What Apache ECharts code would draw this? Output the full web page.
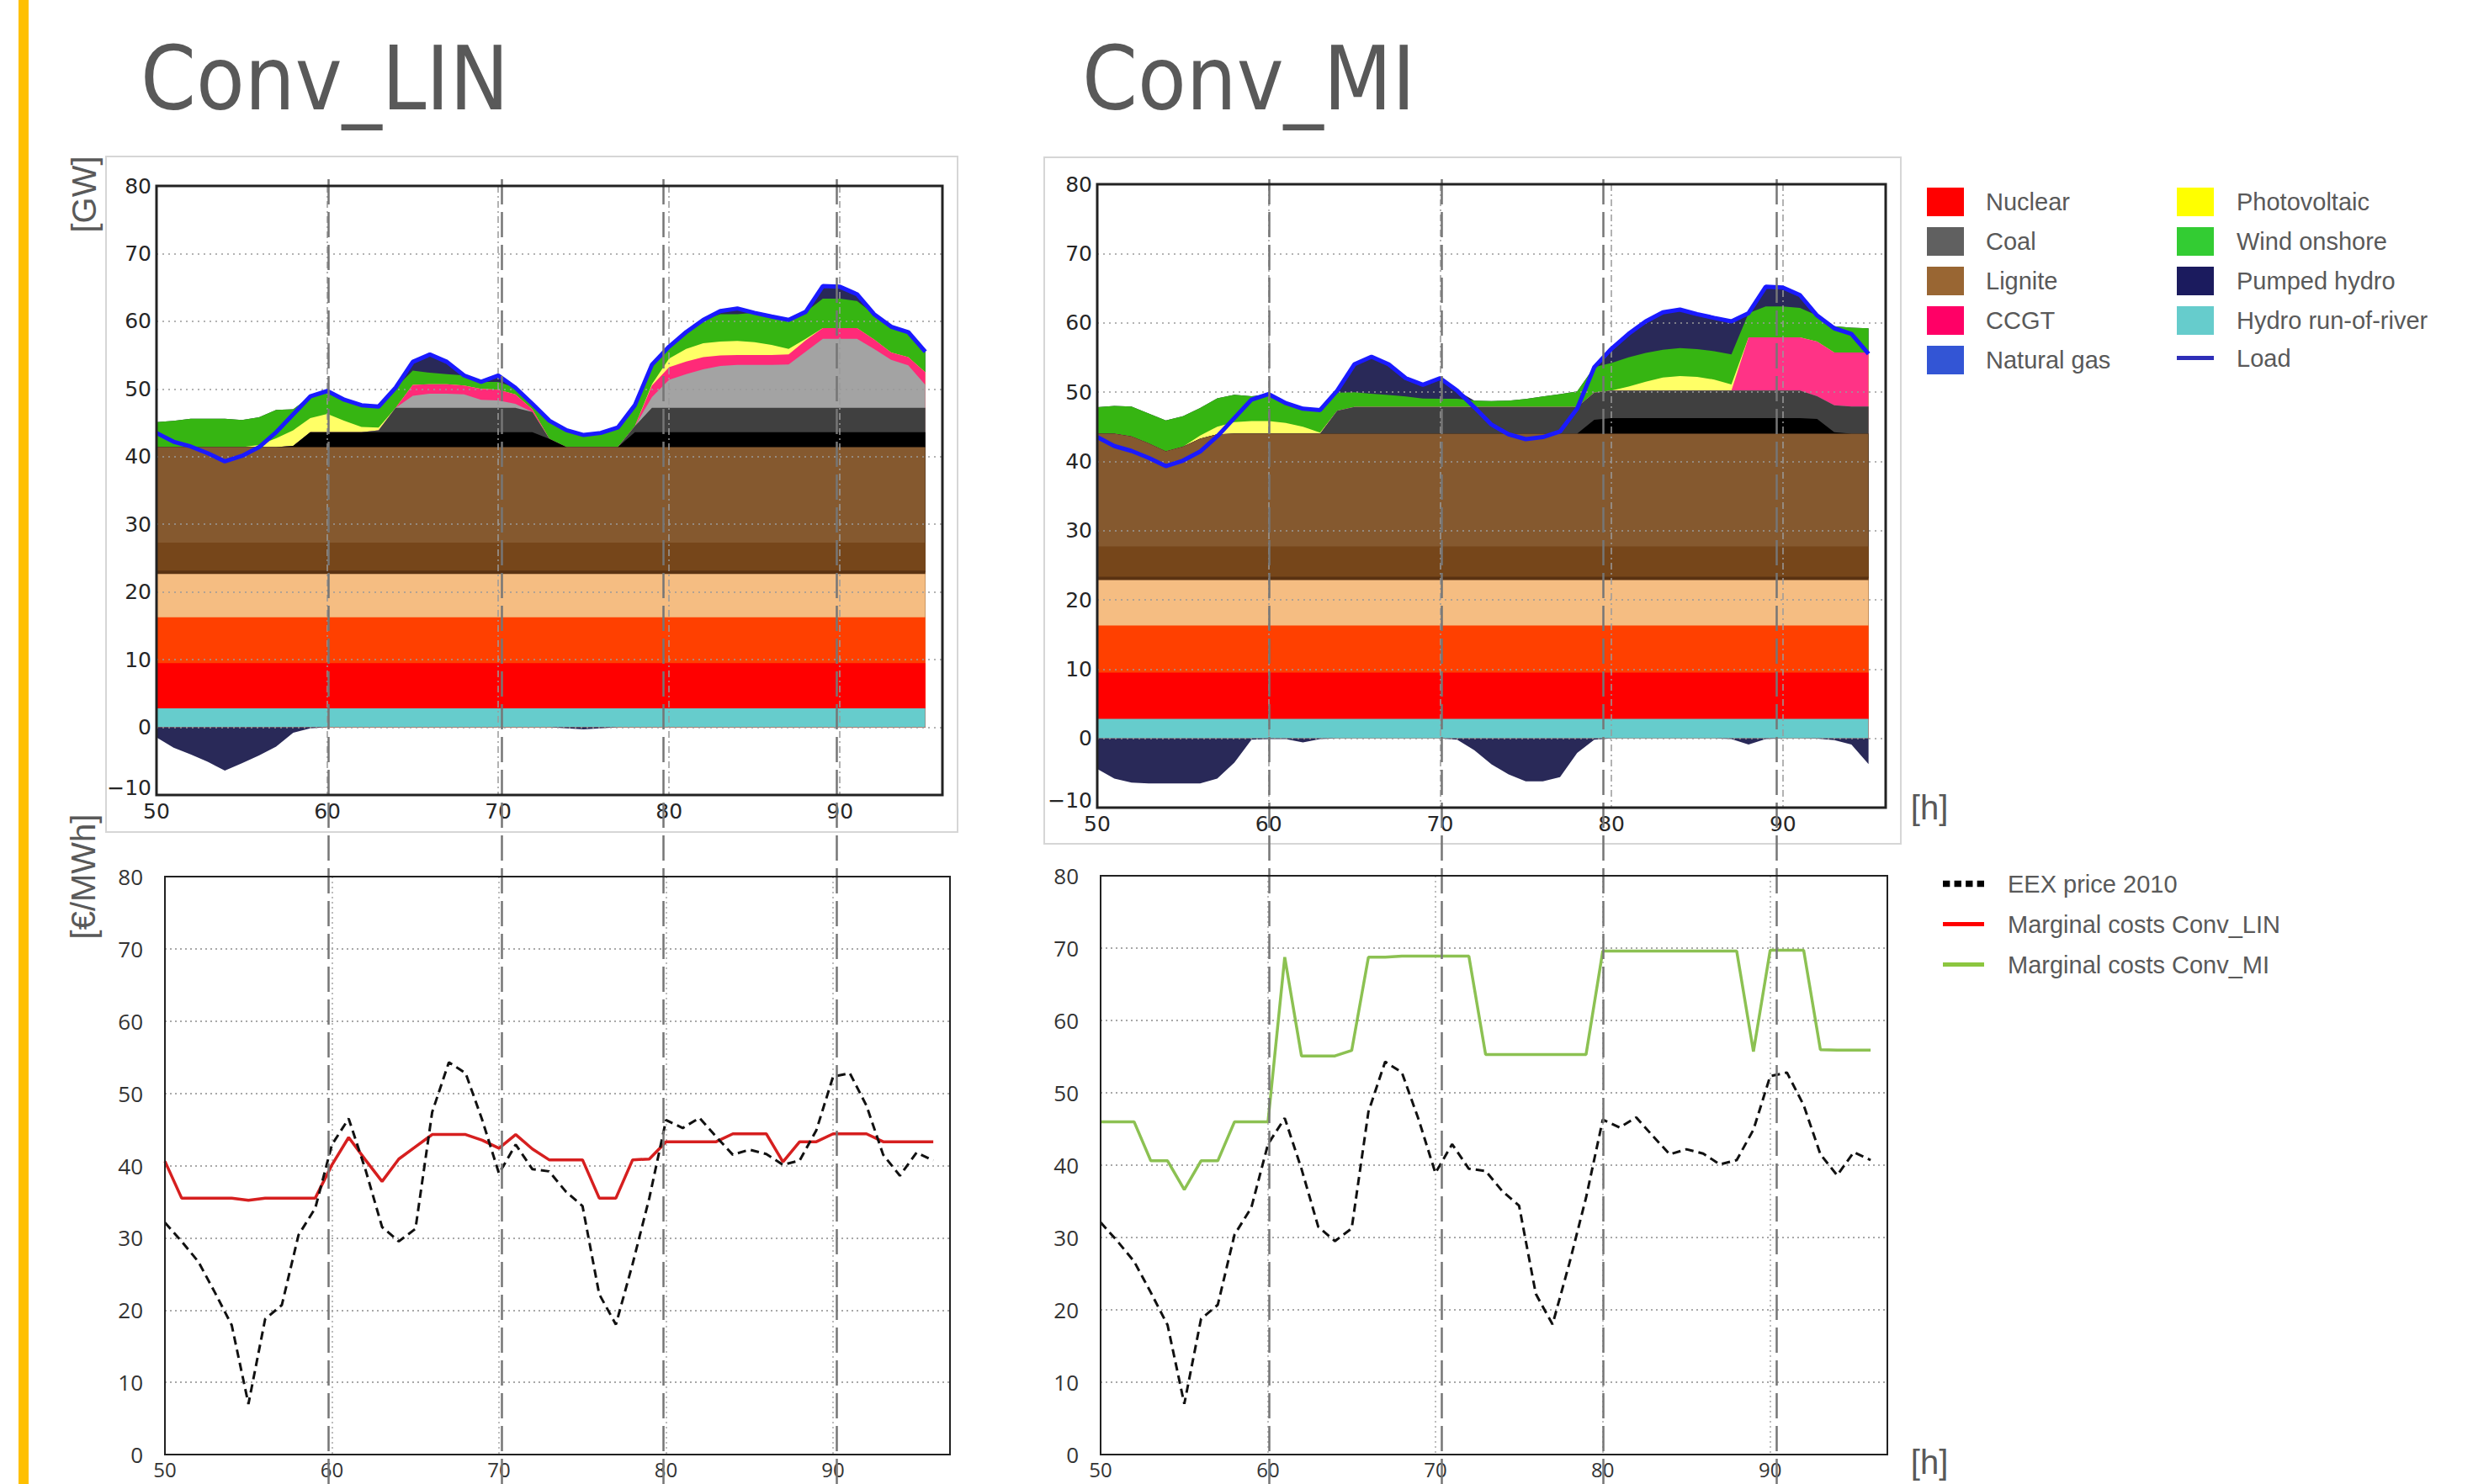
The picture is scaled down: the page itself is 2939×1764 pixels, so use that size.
<!DOCTYPE html>
<html>
<head>
<meta charset="utf-8">
<script src="https://cdn.jsdelivr.net/npm/echarts@6/dist/echarts.min.js"></script>
<style>
html,body{margin:0;padding:0;background:#ffffff;}
#c{width:2939px;height:1764px;}
</style>
</head>
<body>
<div id="c"></div>
<script>
// ---------------- DATA ----------------
const topHours = [50,51,52,53,54,55,56,57,58,59,60,61,62,63,64,65,66,67,68,69,70,71,72,73,74,75,76,77,78,79,80,81,82,83,84,85,86,87,88,89,90,91,92,93,94,95];
const priceHours = [50,51,52,53,54,55,56,57,58,59,60,61,62,63,64,65,66,67,68,69,70,71,72,73,74,75,76,77,78,79,80,81,82,83,84,85,86,87,88,89,90,91,92,93,94,95,96];

const loadGW = [43.5,42.2,41.5,40.5,39.3,40.1,41.4,43.6,46.25,48.9,49.7,48.4,47.6,47.4,50.2,54.0,55.1,54.0,52.0,51.05,52.0,50.2,47.8,45.3,43.9,43.2,43.5,44.3,47.6,53.6,56.25,58.4,60.2,61.5,61.9,61.25,60.7,60.2,61.4,65.2,65.1,64.0,61.05,59.2,58.4,55.5];

// Conv_LIN: upper edges of each generation layer [GW]
const linRunOfRiverTop = 2.8;
const linNuclearTop = 9.5;
const linNuclear2Top = 16.25;
const linPeachTop = 22.9;
const linDarkLigniteTop = 27.3;
const linLigniteTop = 41.4;
const linBlackTop = [41.4,41.4,41.4,41.4,41.4,41.4,41.4,41.4,41.6,43.6,43.6,43.6,43.6,43.6,43.6,43.6,43.6,43.6,43.6,43.6,43.6,43.6,43.6,42.6,41.4,41.4,41.4,41.4,43.6,43.6,43.6,43.6,43.6,43.6,43.6,43.6,43.6,43.6,43.6,43.6,43.6,43.6,43.6,43.6,43.6,43.6];
const linCoalTop = [41.4,41.4,41.4,41.4,41.4,41.4,41.4,41.4,41.6,43.6,43.6,43.6,43.6,43.9,47.2,47.2,47.2,47.2,47.2,47.2,47.2,47.2,46.6,42.6,41.4,41.4,41.4,41.4,44.5,47.2,47.2,47.2,47.2,47.2,47.2,47.2,47.2,47.2,47.2,47.2,47.2,47.2,47.2,47.2,47.2,47.2];
const linGrayTop = [41.4,41.4,41.4,41.4,41.4,41.4,41.4,41.4,41.6,43.6,43.6,43.6,43.6,43.9,47.2,49.0,49.3,49.3,49.2,48.4,48.3,47.8,46.6,42.6,41.4,41.4,41.4,41.4,44.5,48.8,51.35,52.2,52.9,53.4,53.55,53.55,53.55,53.6,55.5,57.4,57.4,57.4,55.9,54.3,53.5,50.6];
const linCcgtTop = [41.4,41.4,41.4,41.4,41.4,41.4,41.4,41.4,41.6,43.6,43.6,43.6,43.6,43.9,47.2,50.6,50.7,50.7,50.5,50.0,49.9,49.2,47.0,42.6,41.4,41.4,41.4,41.4,44.5,50.5,53.2,54.05,54.7,54.96,55.0,55.0,55.0,55.1,57.2,59.0,59.0,59.0,57.3,55.4,54.7,52.45];
const linPvTop = [41.4,41.4,41.4,41.4,41.4,41.4,41.7,42.7,43.9,45.7,46.3,45.3,44.4,44.3,47.2,50.6,50.7,50.7,50.5,50.0,49.9,49.2,47.0,42.6,41.4,41.4,41.4,41.4,44.5,50.7,54.5,55.9,56.75,57.0,57.1,56.9,56.5,55.9,57.4,59.0,59.0,59.0,57.3,55.4,54.7,52.45];
const linWindTop = [45.1,45.3,45.6,45.6,45.6,45.4,45.8,46.9,47.0,48.9,49.7,48.4,47.6,47.4,50.2,52.7,52.4,52.2,52.0,51.05,51.05,50.2,47.8,45.3,43.9,43.2,43.5,44.3,47.6,53.6,56.25,58.4,60.2,61.05,61.05,61.25,60.7,60.2,61.4,63.35,63.35,63.0,61.05,59.2,58.4,55.5];
const linPumpGenTop = [45.1,45.3,45.6,45.6,45.6,45.4,45.8,46.9,47.0,48.9,49.7,48.4,47.6,47.4,50.2,54.0,55.1,54.0,52.0,51.05,52.0,50.2,47.8,45.3,43.9,43.2,43.5,44.3,47.6,53.6,56.25,58.4,60.2,61.5,61.9,61.25,60.7,60.2,61.4,65.2,65.1,64.0,61.05,59.2,58.4,55.5];
const linPumping = [-1.5,-3.0,-4.0,-5.1,-6.4,-5.3,-4.15,-2.85,-0.8,-0.15,0,0,0,0,0,0,0,0,0,0,0,0,0,0,-0.15,-0.3,-0.15,0,0,0,0,0,0,0,0,0,0,0,0,0,0,0,0,0,0,0];

// Conv_MI: upper edges of each generation layer [GW]
const miRunOfRiverTop = 2.8;
const miNuclearTop = 9.5;
const miNuclear2Top = 16.3;
const miPeachTop = 23.1;
const miDarkLigniteTop = 27.7;
const miLigniteTop = [44.0,44.0,43.6,42.6,41.45,42.1,43.25,43.9,44.0,44.0,44.0,44.0,44.0,44.0,44.0,44.0,44.0,44.0,44.0,44.0,44.0,44.0,44.0,44.0,44.0,44.0,44.0,44.0,44.0,44.0,44.0,44.0,44.0,44.0,44.0,44.0,44.0,44.0,44.0,44.0,44.0,44.0,44.0,44.0,44.0,44.0];
const miBlackTop = [44.0,44.0,43.6,42.6,41.45,42.1,43.25,43.9,44.0,44.0,44.0,44.0,44.0,44.0,44.0,44.0,44.0,44.0,44.0,44.0,44.0,44.0,44.0,44.0,44.0,44.0,44.0,44.0,44.0,46.0,46.25,46.25,46.25,46.25,46.25,46.25,46.25,46.25,46.25,46.25,46.25,46.25,46.1,44.2,44.0,44.0];
const miCoalTop = [44.0,44.0,43.6,42.6,41.45,42.1,43.25,43.9,44.0,44.0,44.0,44.0,44.0,44.0,47.3,47.85,47.85,47.85,47.85,47.85,47.85,47.85,47.85,47.85,47.85,47.85,47.85,47.85,47.85,49.9,50.2,50.2,50.2,50.2,50.2,50.2,50.2,50.2,50.2,50.2,50.2,50.2,49.4,48.1,47.9,47.9];
const miCcgtTop = [44.0,44.0,43.6,42.6,41.45,42.1,43.25,43.9,44.0,44.0,44.0,44.0,44.0,44.0,47.3,47.85,47.85,47.85,47.85,47.85,47.85,47.85,47.85,47.85,47.85,47.85,47.85,47.85,47.85,49.9,50.2,50.2,50.2,50.2,50.2,50.2,50.2,50.2,57.9,57.9,57.9,57.9,57.3,55.7,55.7,55.7];
const miPvTop = [44.0,44.0,43.6,42.6,41.45,42.1,43.7,45.0,45.65,45.8,45.8,45.55,45.0,44.15,47.3,47.85,47.85,47.85,47.85,47.85,47.85,47.85,47.85,47.85,47.85,47.85,47.85,47.85,47.85,49.9,50.2,50.8,51.5,52.1,52.3,52.2,51.8,51.1,57.9,57.9,57.9,57.9,57.3,55.7,55.7,55.7];
const miWindTop = [47.8,48.0,47.9,46.9,45.9,46.5,47.7,49.1,49.6,49.4,49.5,48.4,47.6,47.4,49.9,49.96,49.76,49.56,49.35,49.07,49.03,49.03,48.75,48.7,48.75,49.0,49.35,49.7,50.1,53.6,54.2,55.0,55.65,56.1,56.35,56.2,55.9,55.45,61.4,62.36,62.36,62.16,61.05,59.5,59.3,59.2];
const miPumpGenTop = [47.8,48.0,47.9,46.9,45.9,46.5,47.7,49.1,49.6,49.4,49.7,48.5,47.6,47.4,50.2,54.0,55.1,54.0,52.0,51.05,52.0,50.2,48.75,48.7,48.75,49.0,49.35,49.7,50.1,53.6,56.25,58.4,60.2,61.5,61.9,61.25,60.7,60.2,61.4,65.2,65.1,64.0,61.05,59.5,59.3,59.2];
const miPumping = [-4.4,-5.8,-6.4,-6.5,-6.5,-6.5,-6.5,-5.8,-3.5,-0.2,-0.1,-0.1,-0.6,-0.1,0,0,0,0,0,0,0,-0.2,-1.7,-3.75,-5.2,-6.2,-6.2,-5.6,-2.1,-0.2,0,0,0,0,0,0,0,-0.1,-0.9,-0.1,0,0,-0.05,-0.25,-0.9,-3.7];

// Prices [EUR/MWh]
const eexPrice2010 = [32.1,29.5,26.7,22.4,17.9,7.0,18.75,20.7,30.4,34.1,42.9,46.5,39.5,31.5,29.5,31.25,47.4,54.3,52.8,46.3,38.9,42.9,39.5,39.2,36.4,34.4,22.2,18.0,26.4,35.5,46.3,45.2,46.6,44.0,41.5,42.2,41.6,40.1,40.7,44.9,52.3,52.8,48.3,41.5,38.6,41.8,40.7];
const mcConvLin = [40.6,35.5,35.5,35.5,35.5,35.2,35.5,35.5,35.5,35.5,40.1,43.9,40.8,37.8,40.9,42.6,44.3,44.3,44.3,43.5,42.4,44.3,42.3,40.8,40.8,40.8,35.5,35.5,40.8,40.9,43.3,43.3,43.3,43.3,44.4,44.4,44.4,40.5,43.3,43.3,44.4,44.4,44.4,43.3,43.3,43.3,43.3];
const mcConvMi = [46.0,46.0,46.0,40.6,40.6,36.6,40.6,40.6,46.0,46.0,46.0,68.75,55.1,55.1,55.1,55.85,68.75,68.75,68.9,68.9,68.9,68.9,68.9,55.3,55.3,55.3,55.3,55.3,55.3,55.3,69.6,69.6,69.6,69.6,69.6,69.6,69.6,69.6,69.6,55.7,69.7,69.7,69.7,55.95,55.9,55.9,55.9];

// hand-drawn guide lines (hour positions)
const linGuideHours = [60.05,70.2,79.65,89.8];
const miGuideHours = [60.03,70.1,79.5,89.65];

const legendTop1 = ['Nuclear','Coal','Lignite','CCGT','Natural gas'];
const legendTop2 = ['Photovoltaic','Wind onshore','Pumped hydro','Hydro run-of-river','Load'];
const legendBottom = ['EEX price 2010','Marginal costs Conv_LIN','Marginal costs Conv_MI'];

// ---------------- STYLE ----------------
const C = {
  ror:'#66CCCC', nuc:'#FF0000', nuc2:'#FF4000', peach:'#F5BD82', dkLig:'#76461a', lig:'#85592f',
  black:'#000000', coal:'#404040', gray:'#A3A3A3', ccgtL:'#FF2A78', ccgtM:'#FF3386',
  pv:'#FFFF66', wind:'#36B512', navy:'#292958', load:'#1a1aff'
};
const legendColors = {
  'Nuclear':'#FF0000','Coal':'#606060','Lignite':'#996633','CCGT':'#FF0066','Natural gas':'#3355D5',
  'Photovoltaic':'#FFFF00','Wind onshore':'#33CC33','Pumped hydro':'#1B1B5E','Hydro run-of-river':'#66CCCC','Load':'#2E2EB8',
  'EEX price 2010':'#000000','Marginal costs Conv_LIN':'#FF0000','Marginal costs Conv_MI':'#8CC63F'
};

function pts(hours, vals){ return hours.map((h,i)=>[h, vals[i]]); }
function flat(hours, v){ return [[hours[0], v],[hours[hours.length-1], v]]; }
function area(name, color, data, gi, extra){
  return Object.assign({
    type:'line', name, xAxisIndex:gi, yAxisIndex:gi, data,
    symbol:'none', showSymbol:false, lineStyle:{width:0},
    areaStyle:{color, opacity:1}, itemStyle:{color},
    silent:true, z:2, emphasis:{disabled:true}
  }, extra||{});
}

function topSeries(gi, d){
  return [
    area('Pumped hydro', C.navy, pts(topHours, d.pumpGen), gi),
    area('Wind onshore', C.wind, pts(topHours, d.wind), gi),
    area('Photovoltaic', C.pv, pts(topHours, d.pv), gi),
    area('CCGT', d.ccgtColor, pts(topHours, d.ccgt), gi),
    area('Gas (other)', C.gray, pts(topHours, d.gray), gi),
    area('Coal', C.coal, pts(topHours, d.coal), gi),
    area('Hard coal (base)', C.black, pts(topHours, d.black), gi),
    area('Lignite', C.lig, Array.isArray(d.lig) ? pts(topHours, d.lig) : flat(topHours, d.lig), gi),
    area('Lignite (base)', C.dkLig, flat(topHours, d.dkLig), gi),
    area('Nuclear (3)', C.peach, flat(topHours, d.peach), gi, {lineStyle:{width:4, color:'#5a3212'}}),
    area('Nuclear (2)', C.nuc2, flat(topHours, d.nuc2), gi),
    area('Nuclear', C.nuc, flat(topHours, d.nuc), gi),
    area('Hydro run-of-river', C.ror, flat(topHours, d.ror), gi),
    area('Pumped hydro', C.navy, pts(topHours, d.pumping), gi),
    {type:'line', name:'Load', xAxisIndex:gi, yAxisIndex:gi, data: pts(topHours, loadGW),
     symbol:'none', lineStyle:{color:C.load, width:5}, itemStyle:{color:C.load}, z:4, silent:true}
  ];
}

const topLabel = {color:'#262626', fontSize:25, fontFamily:'DejaVu Sans, sans-serif'};
const botLabel = {color:'#333333', fontSize:26, fontFamily:'Open Sans, sans-serif'};
function topX(gi){ return {type:'value', gridIndex:gi, min:50, max:96, interval:10, z:3,
  axisLine:{show:false}, axisTick:{show:false},
  axisLabel:Object.assign({margin:7, showMaxLabel:false}, topLabel),
  splitLine:{show:true, lineStyle:{color:'#9a9a9a', width:1.5, type:[8,4,2,4]}}}; }
function topY(gi){ return {type:'value', gridIndex:gi, min:-10, max:80, interval:10, z:3,
  axisLine:{show:false}, axisTick:{show:false},
  axisLabel:Object.assign({margin:6,
    formatter:v => v < 0 ? '{lo|\u2212' + (-v) + '}' : String(v),
    rich:{lo:Object.assign({padding:[0,0,18,0]}, topLabel)}}, topLabel),
  splitLine:{show:true, lineStyle:{color:'#9a9a9a', width:1.5, type:[2,5]}}}; }
function botX(gi){ return {type:'value', gridIndex:gi, min:50, max:97, interval:10,
  axisLine:{show:false}, axisTick:{show:false},
  axisLabel:Object.assign({margin:5, showMaxLabel:false}, botLabel, {fontSize:24}),
  splitLine:{show:true, lineStyle:{color:'#a8a8a8', width:1.5, type:[2,4]}}}; }
function botY(gi){ return {type:'value', gridIndex:gi, min:0, max:80, interval:10,
  axisLine:{show:false}, axisTick:{show:false},
  axisLabel:Object.assign({margin:26}, botLabel),
  splitLine:{show:true, lineStyle:{color:'#a8a8a8', width:2, type:[2,4]}}}; }
function hidX(gi){ return {type:'value', gridIndex:gi, min:50, max:96, show:false}; }
function hidY(gi){ return {type:'value', gridIndex:gi, min:0, max:1, show:false}; }

function guide(gi, hours){
  return {type:'line', xAxisIndex:gi, yAxisIndex:gi, data:[[50,0]], symbol:'none', lineStyle:{width:0},
    silent:true, z:20, markLine:{silent:true, symbol:['none','none'], label:{show:false},
    lineStyle:{color:'#767676', width:2.5, type:[30,9]}, data: hours.map(h => ({xAxis:h}))}};
}

const gridCommon = {show:true, backgroundColor:'transparent', z:10, containLabel:false, outerBoundsMode:'none'};
const legendText = {color:'#595959', fontSize:29, fontFamily:'Liberation Sans, Arial, sans-serif'};
function legItem(name, icon){ return {name, icon: icon || 'rect', itemStyle:{color:legendColors[name], borderWidth:0}}; }

const series = [].concat(
  topSeries(0, {pumpGen:linPumpGenTop, wind:linWindTop, pv:linPvTop, ccgt:linCcgtTop, ccgtColor:C.ccgtL,
    gray:linGrayTop, coal:linCoalTop, black:linBlackTop, lig:linLigniteTop, dkLig:linDarkLigniteTop,
    peach:linPeachTop, nuc2:linNuclear2Top, nuc:linNuclearTop, ror:linRunOfRiverTop, pumping:linPumping}),
  topSeries(1, {pumpGen:miPumpGenTop, wind:miWindTop, pv:miPvTop, ccgt:miCcgtTop, ccgtColor:C.ccgtM,
    gray:miCoalTop, coal:miCoalTop, black:miBlackTop, lig:miLigniteTop, dkLig:miDarkLigniteTop,
    peach:miPeachTop, nuc2:miNuclear2Top, nuc:miNuclearTop, ror:miRunOfRiverTop, pumping:miPumping}),
  [
    {type:'line', name:'Marginal costs Conv_LIN', xAxisIndex:2, yAxisIndex:2, data:pts(priceHours, mcConvLin),
     symbol:'none', lineStyle:{color:'#d61f1f', width:3.5}, itemStyle:{color:'#d61f1f'}, z:3, silent:true},
    {type:'line', name:'EEX price 2010', xAxisIndex:2, yAxisIndex:2, data:pts(priceHours, eexPrice2010),
     symbol:'none', lineStyle:{color:'#111111', width:3, type:[10,6]}, itemStyle:{color:'#000'}, z:4, silent:true},
    {type:'line', name:'Marginal costs Conv_MI', xAxisIndex:3, yAxisIndex:3, data:pts(priceHours, mcConvMi),
     symbol:'none', lineStyle:{color:'#8cc152', width:3.5}, itemStyle:{color:'#8cc152'}, z:3, silent:true},
    {type:'line', name:'EEX price 2010', xAxisIndex:3, yAxisIndex:3, data:pts(priceHours, eexPrice2010),
     symbol:'none', lineStyle:{color:'#111111', width:3, type:[10,6]}, itemStyle:{color:'#000'}, z:4, silent:true},
    {type:'line', name:'Natural gas', xAxisIndex:0, yAxisIndex:0, data:[], itemStyle:{color:legendColors['Natural gas']}},
    guide(4, linGuideHours),
    guide(5, miGuideHours)
  ]
);

const titleFont = {fontSize:105, fontWeight:'normal', color:'#595959', fontFamily:'DejaVu Sans Condensed, Liberation Sans Narrow, sans-serif'};
const unitFont = {fill:'#595959', fontSize:40, fontFamily:'Liberation Sans, Arial, sans-serif', align:'center', verticalAlign:'middle', textAlign:'center', textVerticalAlign:'middle'};

const option = {
  animation:false,
  backgroundColor:'#ffffff',
  title:[
    {text:'Conv_LIN', left:167, top:41, padding:0, textStyle:titleFont},
    {text:'Conv_MI', left:1286, top:41, padding:0, textStyle:titleFont}
  ],
  grid:[
    Object.assign({left:186, top:221, width:934, height:724, borderColor:'#222', borderWidth:3}, gridCommon),
    Object.assign({left:1304, top:219, width:937, height:741, borderColor:'#222', borderWidth:3}, gridCommon),
    Object.assign({left:196, top:1042, width:933, height:687, borderColor:'#222', borderWidth:2}, gridCommon),
    Object.assign({left:1308, top:1041, width:935, height:688, borderColor:'#222', borderWidth:2}, gridCommon),
    {left:186, top:210, width:934, height:1554, show:false, containLabel:false, outerBoundsMode:'none'},
    {left:1304, top:210, width:937, height:1554, show:false, containLabel:false, outerBoundsMode:'none'}
  ],
  xAxis:[topX(0), topX(1), botX(2), botX(3), hidX(4), hidX(5)],
  yAxis:[topY(0), topY(1), botY(2), botY(3), hidY(4), hidY(5)],
  legend:[
    {orient:'vertical', left:2290, top:223, padding:0, itemWidth:44, itemHeight:34, itemGap:13, selectedMode:false,
     textStyle:Object.assign({padding:[0,0,0,21]}, legendText), data: legendTop1.map(n => legItem(n))},
    {orient:'vertical', left:2587, top:223, padding:0, itemWidth:44, itemHeight:34, itemGap:13, selectedMode:false,
     textStyle:Object.assign({padding:[0,0,0,22]}, legendText),
     data: legendTop2.map(n => legItem(n, n === 'Load' ? 'path://M0,0h44v5h-44z' : 'rect'))},
    {orient:'vertical', left:2309, top:1036, padding:0, itemWidth:49, itemHeight:30, itemGap:19, selectedMode:false,
     textStyle:Object.assign({padding:[0,0,0,23]}, legendText),
     data: [
       legItem(legendBottom[0], 'path://M0,0h8v7h-8z M13,0h8v7h-8z M26,0h8v7h-8z M39,0h8v7h-8z'),
       legItem(legendBottom[1], 'path://M0,0h49v5h-49z'),
       legItem(legendBottom[2], 'path://M0,0h49v5h-49z')
     ]}
  ],
  graphic:[
    {type:'rect', silent:true, shape:{x:22, y:0, width:12, height:1764}, style:{fill:'#FFC000'}},
    {type:'rect', silent:true, shape:{x:126, y:186, width:1012, height:803}, style:{fill:'none', stroke:'#d6d6d6', lineWidth:2}},
    {type:'rect', silent:true, shape:{x:1241, y:187, width:1018, height:816}, style:{fill:'none', stroke:'#d6d6d6', lineWidth:2}},
    {type:'text', silent:true, x:100, y:231, rotation:Math.PI/2, style:Object.assign({text:'[GW]'}, unitFont)},
    {type:'text', silent:true, x:99, y:1042, rotation:Math.PI/2, style:Object.assign({text:'[€/MWh]'}, unitFont)},
    {type:'text', silent:true, x:2293, y:960, style:Object.assign({text:'[h]'}, unitFont)},
    {type:'text', silent:true, x:2293, y:1738, style:Object.assign({text:'[h]'}, unitFont)}
  ],
  series
};

const chart = echarts.init(document.getElementById('c'), null, {renderer:'svg', width:2939, height:1764});
chart.setOption(option);
</script>
</body>
</html>
